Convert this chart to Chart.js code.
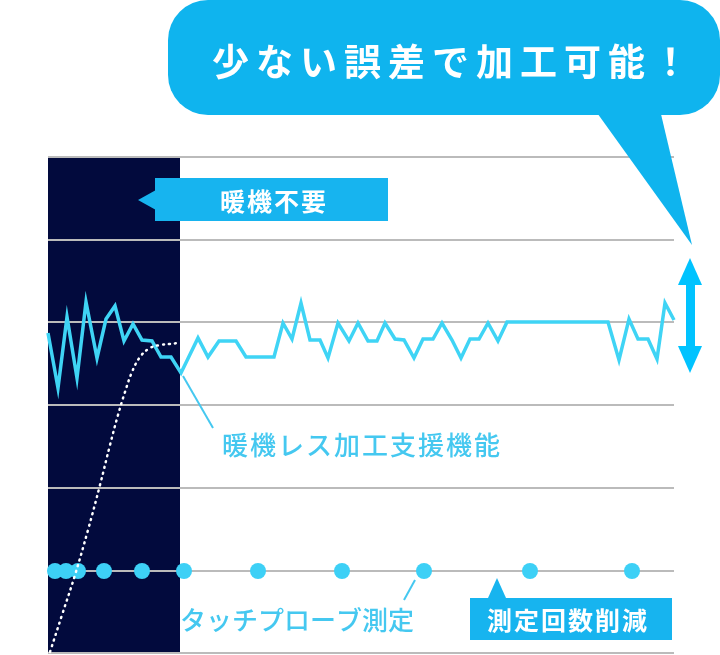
<!DOCTYPE html>
<html><head><meta charset="utf-8">
<script src="https://cdn.jsdelivr.net/npm/chart.js@4"></script>
<style>html,body{margin:0;padding:0;background:#fff}#wrap{width:720px;height:655px;position:relative}</style>
</head><body><div id="wrap"><canvas id="c"></canvas></div>
<script>
// machining error line (x, level)
var lineX=[48,58,67,77,86,97,106,115,124,133,142,152,161,171,181,198,208,219,236,246,274,283,292,301,310,320,328,338,349,358,368,377,385,395,404,414,423,433,442,452,461,470,479,488,498,507,608,619,629,638,648,657,665,674];
var lineY=[333,388,317,378,302,358,319,306,341,324,340,341,357,357,373,338,357,341,341,357,357,323,339,303,340,340,358,323,341,323,341,341,323,339,340,358,339,339,323,340,358,339,339,323,341,322,322,360,319,339,339,359,303,320];
// warm-up curve (dotted)
var warmX=[50,62,75,88,100,110,118,125,132,140,150,160,170,178];
var warmY=[652,615,575,530,485,445,415,392,372,357,348,345,344,343];
// touch probe measurements
var probeX=[55,66,78,104,142,184,258,342,424,530,632];
var probeY=[571,571,571,571,571,571,571,571,571,571,571];
var gridY=[157,240,322,405,488,571,653];

function pts(xs,ys){return xs.map(function(x,i){return {x:x,y:ys[i]};});}

var FONT='"Noto Sans CJK JP", sans-serif';
var overlay={
  id:'overlay',
  beforeDatasetsDraw:function(ch){
    var c=ch.ctx,xs=ch.scales.x,ys=ch.scales.y;
    c.save();
    c.fillStyle='#020a3d';
    c.fillRect(xs.getPixelForValue(48),ys.getPixelForValue(157),xs.getPixelForValue(180)-xs.getPixelForValue(48),ys.getPixelForValue(653)-ys.getPixelForValue(157));
    c.strokeStyle='#bbbbbb';c.lineWidth=2;
    gridY.forEach(function(g){var y=ys.getPixelForValue(g);c.beginPath();c.moveTo(xs.getPixelForValue(48),y);c.lineTo(xs.getPixelForValue(674),y);c.stroke();});
    c.restore();
  },
  afterDatasetsDraw:function(ch){
    var c=ch.ctx;
    c.save();
    // speech bubble
    c.fillStyle='#0fb4ee';
    c.beginPath();c.roundRect(168,0,552,115,40);c.fill();
    c.beginPath();c.moveTo(595,110);c.lineTo(692,245);c.lineTo(660,110);c.closePath();c.fill();
    c.fillStyle='#fff';c.font='bold 37px '+FONT;c.textBaseline='middle';c.textAlign='left';
    c.letterSpacing='7px';
    c.fillText('少ない誤差で加工可能！',212,62);
    c.letterSpacing='2px';
    // double arrow
    c.fillStyle='#00c3ff';
    c.fillRect(686,282,9,70);
    c.beginPath();c.moveTo(690,258);c.lineTo(702,285);c.lineTo(678,285);c.closePath();c.fill();
    c.beginPath();c.moveTo(690,373);c.lineTo(702,346);c.lineTo(678,346);c.closePath();c.fill();
    // 暖機不要 box
    c.fillStyle='#17b4ef';
    c.fillRect(155,178,233,43);
    c.beginPath();c.moveTo(138,200);c.lineTo(156,190);c.lineTo(156,210);c.closePath();c.fill();
    c.fillStyle='#fff';c.font='bold 25px '+FONT;c.textAlign='left';
    c.fillText('暖機不要',220,201);
    // 測定回数削減 box
    c.fillStyle='#17b4ef';
    c.fillRect(470,598,202,42);
    c.beginPath();c.moveTo(497,578);c.lineTo(488,598);c.lineTo(506,598);c.closePath();c.fill();
    c.fillStyle='#fff';c.font='bold 25px '+FONT;c.fillText('測定回数削減',487,620);
    // labels
    c.strokeStyle='#45c8f0';c.lineWidth=2;
    c.beginPath();c.moveTo(183,376);c.lineTo(213,428);c.stroke();
    c.beginPath();c.moveTo(415,580);c.lineTo(404,600);c.stroke();
    c.fillStyle='#45c8f0';c.font='500 26px '+FONT;c.letterSpacing='2px';
    c.fillText('暖機レス加工支援機能',222,445);
    c.letterSpacing='0px';
    c.fillText('タッチプローブ測定',180,620);
    c.restore();
  }
};

new Chart('c',{
  type:'scatter',
  data:{datasets:[
    {data:pts(warmX,warmY),showLine:true,borderColor:'#ffffff',borderWidth:2.5,borderDash:[1,5],borderCapStyle:'round',pointRadius:0,tension:0.4},
    {data:pts(lineX,lineY),showLine:true,borderColor:'#3fd4f5',borderWidth:3.5,pointRadius:0,tension:0},
    {data:pts(probeX,probeY),showLine:false,backgroundColor:'#3dd0f6',borderWidth:0,pointRadius:8}
  ]},
  options:{
    responsive:true,maintainAspectRatio:false,animation:false,
    layout:{padding:0,autoPadding:false},
    plugins:{legend:{display:false},tooltip:{enabled:false}},
    scales:{
      x:{type:'linear',min:0,max:720,display:false},
      y:{type:'linear',min:0,max:655,reverse:true,display:false}
    }
  },
  plugins:[overlay]
});
</script></body></html>
